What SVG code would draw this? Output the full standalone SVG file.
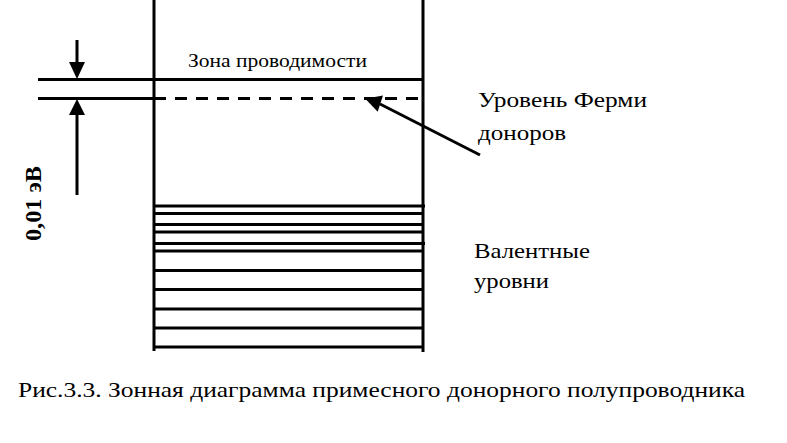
<svg xmlns="http://www.w3.org/2000/svg" width="787" height="443" viewBox="0 0 787 443">
<style>
.ln{stroke:#000;stroke-width:3;fill:none}
.tx{font-family:"Liberation Serif","Times New Roman","DejaVu Serif",serif;fill:#000}
</style>
<rect width="787" height="443" fill="#fff"/>
<g id="band-walls">
<line class="ln" x1="154" y1="0" x2="154" y2="351"/>
<line class="ln" x1="423" y1="0" x2="423" y2="352"/>
</g>
<g id="conduction-band">
<line class="ln" x1="38" y1="79.5" x2="423" y2="79.5"/>
<text class="tx" x="188" y="67" font-size="18" textLength="179" lengthAdjust="spacingAndGlyphs">Зона проводимости</text>
</g>
<g id="fermi-level">
<line class="ln" x1="38" y1="98.5" x2="154" y2="98.5"/>
<line class="ln" x1="154" y1="98.5" x2="418" y2="98.5" stroke-dasharray="12,9"/>
</g>
<g id="valence-levels">
<line class="ln" x1="154" y1="206" x2="425" y2="206"/>
<line class="ln" x1="154" y1="213.5" x2="423" y2="213.5"/>
<line class="ln" x1="154" y1="224.5" x2="423" y2="224.5"/>
<line class="ln" x1="154" y1="232" x2="423" y2="232"/>
<line class="ln" x1="154" y1="243.5" x2="425" y2="243.5"/>
<line class="ln" x1="154" y1="251" x2="423" y2="251"/>
<line class="ln" x1="154" y1="270.5" x2="423" y2="270.5"/>
<line class="ln" x1="154" y1="289.5" x2="423" y2="289.5"/>
<line class="ln" x1="154" y1="309" x2="423" y2="309"/>
<line class="ln" x1="154" y1="328" x2="423" y2="328"/>
<line class="ln" x1="153" y1="347" x2="423" y2="347"/>
</g>
<g id="connectors">
<line class="ln" x1="77" y1="40" x2="77" y2="62"/>
<path d="M69,62 L85,62 L77,79 z" fill="#000"/>
<line class="ln" x1="77" y1="115" x2="77" y2="195"/>
<path d="M69,115 L85,115 L77,99 z" fill="#000"/>
<line class="ln" x1="480" y1="155" x2="380" y2="104"/>
<path d="M366,97 L384,97 L376,112 z" fill="#000" transform="rotate(-10 375 102)"/>
</g>
<g id="labels">
<text class="tx" font-size="24" font-weight="bold" textLength="75" lengthAdjust="spacingAndGlyphs" transform="translate(41,241) rotate(-90)">0,01 эВ</text>
<text class="tx" x="478" y="107" font-size="22" textLength="169" lengthAdjust="spacingAndGlyphs">Уровень Ферми</text>
<text class="tx" x="478" y="140" font-size="22" textLength="88" lengthAdjust="spacingAndGlyphs">доноров</text>
<text class="tx" x="474" y="258" font-size="22" textLength="116" lengthAdjust="spacingAndGlyphs">Валентные</text>
<text class="tx" x="474" y="288" font-size="22" textLength="75" lengthAdjust="spacingAndGlyphs">уровни</text>
<text class="tx" x="18" y="397" font-size="22" textLength="727" lengthAdjust="spacingAndGlyphs">Рис.3.3. Зонная диаграмма примесного донорного полупроводника</text>
</g>
</svg>
